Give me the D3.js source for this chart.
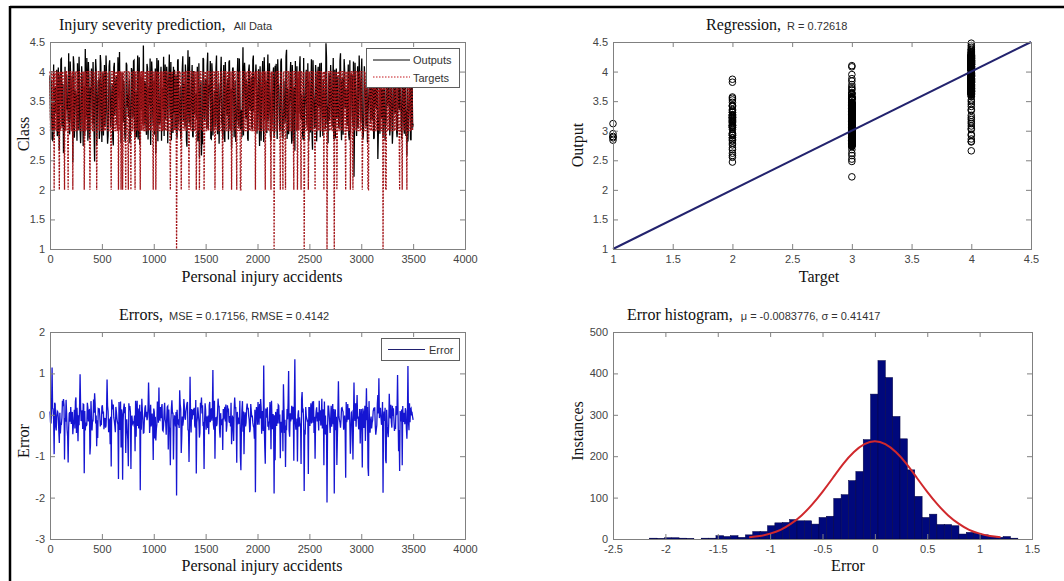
<!DOCTYPE html>
<html><head><meta charset="utf-8">
<script src="https://cdn.jsdelivr.net/npm/d3@7/dist/d3.min.js"></script>
<style>
html,body{margin:0;padding:0;background:#fff;}
svg{display:block;}
</style></head>
<body>
<svg id="chart" width="1064" height="581"></svg>
<script>
// ---------------- data ----------------
// samples A at accidents 0,10,20,...; samples B at 5,15,25,...
const sampleStep = 5;
const targetsA = [
4,3,4,3,2,4,3,3,4,2, 3,4,4,3,2,3,4,3,4,3, 4,3,2,4,3,4,3,3,4,4, 3,4,3,2,4,3,4,4,3,3,
4,3,4,3,4,2,3,4,3,4, 3,4,3,3,4,4,3,4,3,2, 4,3,4,3,4,3,2,4,4,3, 2,4,3,2,4,3,4,3,2,4,
3,4,2,3,4,3,4,2,3,4, 4,3,4,3,4,4,3,3,4,3, 4,3,2,4,3,4,3,4,4,3, 3,4,3,4,3,4,2,3,4,3,
4,3,1,4,3,4,3,3,4,4, 3,4,3,4,2,4,3,4,3,4, 3,2,4,3,2,4,3,3,4,3, 4,3,4,3,4,3,4,4,3,2,
4,3,4,3,3,4,3,4,3,4, 3,4,3,4,3,2,4,3,4,3, 2,4,3,4,2,3,4,3,4,3, 4,3,4,3,4,3,4,3,2,4,
3,4,3,4,3,4,4,3,4,3, 4,3,4,2,3,4,1,3,4,3, 4,3,2,4,3,4,3,2,4,3, 4,3,4,3,4,2,4,3,4,3,
3,4,2,4,3,1,3,4,3,2, 4,3,4,3,4,3,4,3,4,3, 4,3,4,3,2,3,4,1,3,4, 3,4,3,4,1,3,4,3,4,3,
4,3,4,3,4,2,3,4,3,4, 3,4,2,3,4,3,4,3,4,3, 4,2,3,4,3,4,3,2,4,3, 3,4,3,4,3,4,3,4,3,4,
3,1,4,3,2,4,3,4,3,4, 3,4,3,4,3,4,3,2,4,3, 4,3,4,3,2,4,3,4,3,4, 3
];
const outputsA = [
3.92,3.21,2.86,2.86,2.95,3.74,3.38,2.91,4.07,2.68, 3.45,4.22,3.66,2.62,3.08,3.17,3.95,3.52,4.31,2.94,
3.81,3.06,2.47,4.12,3.33,3.58,2.83,3.64,4.25,3.02, 3.15,3.89,2.74,3.41,4.38,3.27,3.71,4.16,2.88,3.74,
4.05,3.12,3.63,2.48,4.21,2.76,3.56,3.86,3.03,4.14, 2.81,3.97,3.35,3.08,4.27,3.15,2.92,4.09,3.71,3.25,
3.78,2.75,4.15,3.42,3.93,3.18,3.55,4.33,3.68,2.87, 3.57,3.84,2.96,2.92,4.11,3.61,3.72,2.79,3.31,4.02,
3.24,4.19,2.88,3.53,3.66,2.85,4.24,3.82,3.36,3.91, 4.44,3.09,3.77,2.93,4.06,3.22,3.44,2.76,4.17,3.26,
3.85,3.57,2.62,4.23,2.82,3.34,3.13,4.08,3.74,3.39, 2.91,4.12,3.48,3.81,3.84,4.29,3.22,2.84,3.96,4.08,
4.03,3.28,2.95,4.18,3.11,3.41,2.86,3.54,4.26,3.62, 3.07,3.92,2.73,4.36,3.14,3.08,3.43,4.11,2.89,3.83,
3.31,3.42,4.08,2.98,2.55,3.71,2.58,2.77,4.21,3.16, 3.88,3.04,4.32,3.47,3.69,2.87,4.14,2.92,3.36,3.06,
4.07,3.22,3.61,2.78,3.55,4.25,3.12,3.86,2.94,4.16, 3.41,3.77,2.85,4.19,3.28,2.71,4.05,3.63,3.58,2.81,
3.16,4.23,3.07,3.66,3.34,2.89,4.41,3.95,3.94,3.19, 3.73,2.83,4.12,3.35,3.91,3.02,4.27,3.58,3.87,3.81,
3.24,4.04,2.74,3.62,3.46,4.18,2.81,3.78,3.85,2.96, 4.29,3.37,3.69,2.83,3.13,3.98,2.90,4.10,4.13,2.86,
3.76,3.21,3.05,4.22,2.89,3.26,3.44,3.26,4.37,3.11, 2.94,3.53,4.16,2.78,3.82,3.11,2.66,3.36,4.09,3.01,
3.29,4.26,3.19,3.45,2.85,2.84,3.48,4.03,3.15,3.43, 3.83,2.97,4.21,2.68,3.67,3.05,4.11,2.82,3.94,3.38,
4.14,3.26,3.61,2.91,3.22,3.47,4.48,3.12,2.79,3.97, 3.44,3.78,3.08,4.23,2.90,2.87,4.05,3.55,3.19,3.13,
4.31,2.84,3.89,3.36,4.02,3.52,3.18,3.74,2.93,4.19, 3.57,3.93,3.08,2.22,4.15,3.29,3.52,3.04,4.27,3.69,
3.86,3.27,2.92,4.09,3.63,3.36,2.81,3.48,4.22,3.15, 3.33,4.13,2.86,3.82,3.48,4.25,2.52,3.12,2.95,4.06,
3.21,2.88,3.92,2.83,3.17,4.28,3.54,3.49,3.09,4.17, 2.78,3.84,3.39,4.34,3.01,3.04,3.88,3.36,4.11,2.87,
3.79,3.14,4.23,2.91,2.58,2.82,3.37,4.18,2.84,3.96, 3.12
];
const targetsB = [
3,4,3,4,4,3,4,3,3,4, 4,3,4,3,4,4,3,2,3,4, 3,4,4,3,4,3,4,3,4,3, 4,3,4,3,3,4,3,4,2,4,
3,4,3,4,4,3,4,3,4,3, 4,3,4,3,4,3,3,4,3,4, 3,4,3,4,3,4,4,3,2,4, 3,4,3,4,3,2,4,3,4,3,
4,3,4,3,4,3,3,4,4,3, 3,4,3,4,3,4,4,3,4,2, 3,4,3,4,4,3,4,3,3,4, 4,3,4,3,4,3,4,4,3,3,
3,4,3,4,3,4,2,4,3,4, 4,3,4,3,4,3,4,3,4,3, 4,3,3,4,3,4,3,4,2,4, 3,4,3,4,4,3,4,3,4,3,
4,3,4,3,4,3,2,4,3,4, 3,4,4,3,4,3,4,3,4,3, 4,3,4,2,3,4,3,4,3,4, 3,4,3,4,3,4,3,4,4,3,
4,3,4,3,4,3,4,2,3,4, 3,4,3,4,3,4,3,4,3,4, 4,3,4,3,2,4,3,4,3,4, 3,4,3,4,3,4,4,3,2,4,
4,3,4,3,4,3,4,3,4,3, 3,4,3,4,3,2,4,3,4,4, 3,4,3,4,4,3,4,3,4,3, 4,3,4,3,4,3,2,4,3,4,
3,4,3,4,3,4,3,4,3,2, 4,3,4,3,4,3,4,3,4,3, 4,3,3,4,3,4,2,4,3,4, 3,4,3,4,3,4,3,4,4,3,
4,3,4,2,4,3,4,3,4,3, 3,4,3,4,3,4,3,4,3,2, 4,3,4,3,4,3,4,3,4,3
];
const outputsB = [
3.18,3.86,2.84,4.12,3.71,3.29,4.03,2.93,3.41,3.95, 4.21,3.07,3.79,2.76,4.08,3.64,3.36,3.15,2.97,4.17,
3.22,3.93,4.26,2.88,3.68,3.44,4.14,3.01,3.82,2.79, 4.09,3.34,3.75,2.91,3.19,4.23,2.83,3.89,2.96,3.67,
3.38,4.16,2.95,3.72,4.02,3.13,3.85,2.86,4.28,3.25, 3.77,2.92,4.11,3.31,3.94,2.78,3.42,4.19,3.05,3.63,
2.87,4.07,3.27,3.81,3.09,4.24,3.69,3.36,2.79,3.98, 3.14,3.73,2.81,4.15,3.39,3.24,3.88,2.94,4.06,3.21,
4.18,3.02,3.66,2.89,4.27,3.33,2.76,3.92,3.61,3.11, 3.43,3.84,3.06,4.13,2.85,3.76,4.22,3.28,3.97,3.09,
2.93,4.05,3.35,3.68,4.19,3.12,3.81,2.83,3.37,4.25, 3.71,3.18,4.08,2.79,3.87,3.41,4.16,3.65,2.96,3.29,
3.04,3.93,2.88,4.21,3.32,3.74,2.92,4.04,3.15,3.79, 4.12,2.84,3.69,3.38,4.25,3.07,3.86,2.91,4.01,3.26,
3.64,3.19,2.82,4.14,3.44,3.83,2.97,4.23,3.31,3.72, 3.36,4.09,3.02,3.77,4.18,2.86,3.94,3.23,3.66,3.08,
4.27,2.94,3.81,3.41,3.96,3.14,2.85,4.11,2.81,3.75, 3.25,3.89,4.16,3.03,3.71,3.37,4.07,2.89,3.84,3.19,
3.93,3.11,4.22,3.02,3.34,3.67,2.92,4.15,3.28,3.86, 2.87,4.03,3.42,3.74,3.06,4.19,3.31,3.88,4.12,2.95,
3.69,3.24,4.09,2.83,3.91,3.39,4.24,3.18,3.07,3.82, 3.16,4.14,2.91,3.66,3.35,4.07,3.01,3.93,3.27,4.21,
3.78,2.99,4.17,3.43,2.88,3.85,3.12,4.26,2.86,3.71, 3.38,3.96,3.05,4.11,2.82,3.74,4.18,3.29,3.13,3.89,
4.06,3.21,3.63,2.94,4.23,3.36,3.81,3.09,4.14,2.83, 3.27,3.72,2.96,4.19,3.44,3.06,3.93,3.16,4.08,3.66,
2.89,4.15,3.33,3.87,3.68,3.02,4.24,3.41,3.79,3.18, 4.11,3.29,3.74,2.86,4.03,3.37,3.21,3.92,3.04,4.18,
3.12,3.83,2.93,4.21,3.39,3.69,3.08,4.12,2.84,2.94, 3.95,3.26,4.17,3.04,3.72,2.91,4.09,3.35,3.86,3.14,
4.22,2.85,3.32,3.78,3.07,4.13,3.27,3.67,3.43,4.04, 3.19,3.91,2.88,4.26,3.36,3.74,2.97,4.08,3.83,3.24,
3.69,3.11,4.15,3.09,3.88,3.42,4.21,2.92,3.76,3.31, 3.03,4.12,3.28,3.79,2.89,4.04,3.37,3.91,3.16,3.22,
4.17,2.95,3.84,3.33,4.09,3.14,3.72,2.86,3.98,3.05
];
// error histogram (50 bins over the error range)
const histRange = [-2.15, 1.365];
const histCounts = [
2,1,3,3,2,1,0,2,2,8, 6,8,4,10,18,18,32,39,40,47, 44,44,36,52,55,98,107,141,163,240,
350,431,390,296,242,167,103,52,60,35, 35,32,12,16,14,10,6,4,6,2
];
// fitted normal curve
const fitErr   = [-1.2,-1.1,-1.0,-0.9,-0.8,-0.7,-0.6,-0.5,-0.4,-0.3,-0.2,-0.1,0,0.1,0.2,0.3,0.4,0.5,0.6,0.7,0.8,0.9,1.0,1.1,1.2];
const fitCount = [4,7,13,22,37,57,83,114,148,182,210,229,236,229,210,182,148,114,83,57,37,22,13,7,4];
// regression reference line (Output = Target)
const regLineTarget = [1, 4.5];
const regLineOutput = [1, 4.5];
// tick labels
const accidentTicks = [0,500,1000,1500,2000,2500,3000,3500,4000];
const classTicks = [1,1.5,2,2.5,3,3.5,4,4.5];
const errorTicks = [-3,-2,-1,0,1,2];
const histXTicks = [-2.5,-2,-1.5,-1,-0.5,0,0.5,1,1.5];
const histYTicks = [0,100,200,300,400,500];

// interleave the two sample sets in accident order
const targets = d3.merge(targetsA.map((t,i)=> i<targetsB.length ? [t,targetsB[i]] : [t]));
const outputs = d3.merge(outputsA.map((o,i)=> i<outputsB.length ? [o,outputsB[i]] : [o]));

// ---------------- drawing ----------------
const SERIF = "'Liberation Serif','Times New Roman',serif";
const SANS = "'Liberation Sans',Arial,sans-serif";
const svg = d3.select("#chart");
svg.append("rect").attr("width",1064).attr("height",581).attr("fill","#fff");

function scales(c){
  return {x: d3.scaleLinear().domain(c.xDomain).range([c.left,c.right]),
          y: d3.scaleLinear().domain(c.yDomain).range([c.bottom,c.top])};
}
function drawAxes(c, s){
  const g = svg.append("g");
  const fmt = d => String(d);
  const st = sel => { sel.select(".domain").remove();
    sel.selectAll(".tick line").attr("stroke","#808080");
    sel.selectAll("text").attr("font-family",SANS).attr("font-size",11).attr("fill","#444"); };
  g.append("g").attr("transform",`translate(0,${c.bottom})`)
    .call(d3.axisBottom(s.x).tickValues(c.xTicks).tickFormat(fmt).tickSize(-5).tickPadding(6)).call(st);
  g.append("g").attr("transform",`translate(0,${c.top})`)
    .call(d3.axisTop(s.x).tickValues(c.xTicks).tickFormat("").tickSize(-5)).call(st);
  g.append("g").attr("transform",`translate(${c.left},0)`)
    .call(d3.axisLeft(s.y).tickValues(c.yTicks).tickFormat(fmt).tickSize(-5).tickPadding(5)).call(st);
  g.append("g").attr("transform",`translate(${c.right},0)`)
    .call(d3.axisRight(s.y).tickValues(c.yTicks).tickFormat("").tickSize(-5)).call(st);
  g.append("rect").attr("x",c.left+0.5).attr("y",c.top+0.5)
    .attr("width",c.right-c.left).attr("height",c.bottom-c.top)
    .attr("fill","none").attr("stroke","#808080");
}
function title(x,y,main,sub,gap){
  const t = svg.append("text").attr("x",x).attr("y",y);
  t.append("tspan").attr("font-family",SERIF).attr("font-size",16).attr("fill","#111").text(main);
  t.append("tspan").attr("font-family",SANS).attr("font-size",11).attr("fill","#333").attr("dx",gap).text(sub);
}
function xLabel(x,y,txt){
  svg.append("text").attr("x",x).attr("y",y).attr("text-anchor","middle")
    .attr("font-family",SERIF).attr("font-size",16).attr("fill","#111").text(txt);
}
function yLabel(x,y,txt){
  svg.append("text").attr("transform",`translate(${x},${y}) rotate(-90)`).attr("text-anchor","middle")
    .attr("font-family",SERIF).attr("font-size",16).attr("fill","#111").text(txt);
}

// ---- Panel 1: outputs / targets ----
const c1 = {left:50,right:465,top:42,bottom:249,xDomain:[0,4000],yDomain:[1,4.5],xTicks:accidentTicks,yTicks:classTicks};
const s1 = scales(c1);
const line1 = d3.line().x((d,i)=>s1.x(i*sampleStep)).y(d=>s1.y(d));
svg.append("path").datum(outputs).attr("d",line1).attr("fill","none").attr("stroke","#000").attr("stroke-width",1.3);
svg.append("path").datum(targets).attr("d",line1).attr("fill","none").attr("stroke","#a3161a")
  .attr("stroke-width",1.3).attr("stroke-dasharray","2 1.2");
drawAxes(c1,s1);
title(59,30,"Injury severity prediction,","All Data",8);
xLabel(262,282,"Personal injury accidents");
yLabel(29,134,"Class");
const lg1 = svg.append("g");
lg1.append("rect").attr("x",366.5).attr("y",48.5).attr("width",93).attr("height",39).attr("fill","#fff").attr("stroke","#606060");
lg1.append("line").attr("x1",373).attr("x2",410).attr("y1",60).attr("y2",60).attr("stroke","#000");
lg1.append("line").attr("x1",373).attr("x2",410).attr("y1",77).attr("y2",77).attr("stroke","#c4161c").attr("stroke-dasharray","1.5 1.5");
lg1.append("text").attr("x",413).attr("y",64).attr("font-family",SANS).attr("font-size",11).attr("fill","#333").text("Outputs");
lg1.append("text").attr("x",413).attr("y",82).attr("font-family",SANS).attr("font-size",11).attr("fill","#333").text("Targets");

// ---- Panel 2: regression ----
const c2 = {left:613,right:1031,top:42,bottom:249,xDomain:[1,4.5],yDomain:[1,4.5],xTicks:classTicks,yTicks:classTicks};
const s2 = scales(c2);
svg.append("g").selectAll("circle").data(targets).join("circle")
  .attr("cx",d=>s2.x(d)).attr("cy",(d,i)=>s2.y(outputs[i])).attr("r",3.3)
  .attr("fill","none").attr("stroke","#000").attr("stroke-width",1);
svg.append("path").datum(regLineTarget).attr("d",d3.line().x(d=>s2.x(d)).y((d,i)=>s2.y(regLineOutput[i])))
  .attr("stroke","#23236e").attr("stroke-width",2).attr("fill","none");
drawAxes(c2,s2);
title(706,30,"Regression,","R = 0.72618",6);
xLabel(819,282,"Target");
yLabel(583,145,"Output");

// ---- Panel 3: errors ----
const errors = targets.map((t,i)=>t-outputs[i]);
const c3 = {left:50,right:465,top:332,bottom:539,xDomain:[0,4000],yDomain:[-3,2],xTicks:accidentTicks,yTicks:errorTicks};
const s3 = scales(c3);
svg.append("path").datum(errors).attr("d",d3.line().x((d,i)=>s3.x(i*sampleStep)).y(d=>s3.y(d)))
  .attr("fill","none").attr("stroke","#1515d2").attr("stroke-width",1.3);
drawAxes(c3,s3);
title(119,320,"Errors,","MSE = 0.17156, RMSE = 0.4142",6);
xLabel(262,571,"Personal injury accidents");
yLabel(29,441,"Error");
const lg3 = svg.append("g");
lg3.append("rect").attr("x",381.5).attr("y",338.5).attr("width",78).attr("height",22).attr("fill","#fff").attr("stroke","#606060");
lg3.append("line").attr("x1",388).attr("x2",425).attr("y1",349.5).attr("y2",349.5).attr("stroke","#202070");
lg3.append("text").attr("x",429).attr("y",353.5).attr("font-family",SANS).attr("font-size",11).attr("fill","#333").text("Error");

// ---- Panel 4: error histogram ----
const c4 = {left:613,right:1032,top:332,bottom:539,xDomain:[-2.5,1.5],yDomain:[0,500],xTicks:histXTicks,yTicks:histYTicks};
const s4 = scales(c4);
const binW = (histRange[1]-histRange[0])/histCounts.length;
svg.append("g").selectAll("rect").data(histCounts).join("rect")
  .attr("x",(d,i)=>s4.x(histRange[0]+i*binW))
  .attr("width",(d,i)=>s4.x(histRange[0]+(i+1)*binW)-s4.x(histRange[0]+i*binW))
  .attr("y",d=>s4.y(d)).attr("height",d=>s4.y(0)-s4.y(d))
  .attr("fill","#00087c").attr("stroke","#000040").attr("stroke-width",0.5);
svg.append("path").datum(fitCount).attr("d",d3.line().curve(d3.curveNatural).x((d,i)=>s4.x(fitErr[i])).y(d=>s4.y(d)))
  .attr("fill","none").attr("stroke","#d0282c").attr("stroke-width",2);
drawAxes(c4,s4);
title(627,320,"Error histogram,","\u03bc = -0.0083776, \u03c3 = 0.41417",8);
xLabel(848,571,"Error");
yLabel(583,431,"Instances");

// outer frame
svg.append("line").attr("x1",10).attr("x2",1064).attr("y1",7).attr("y2",7).attr("stroke","#000").attr("stroke-width",2.5);
svg.append("line").attr("x1",10).attr("x2",10).attr("y1",6).attr("y2",581).attr("stroke","#000").attr("stroke-width",2.5);
</script>
</body></html>
